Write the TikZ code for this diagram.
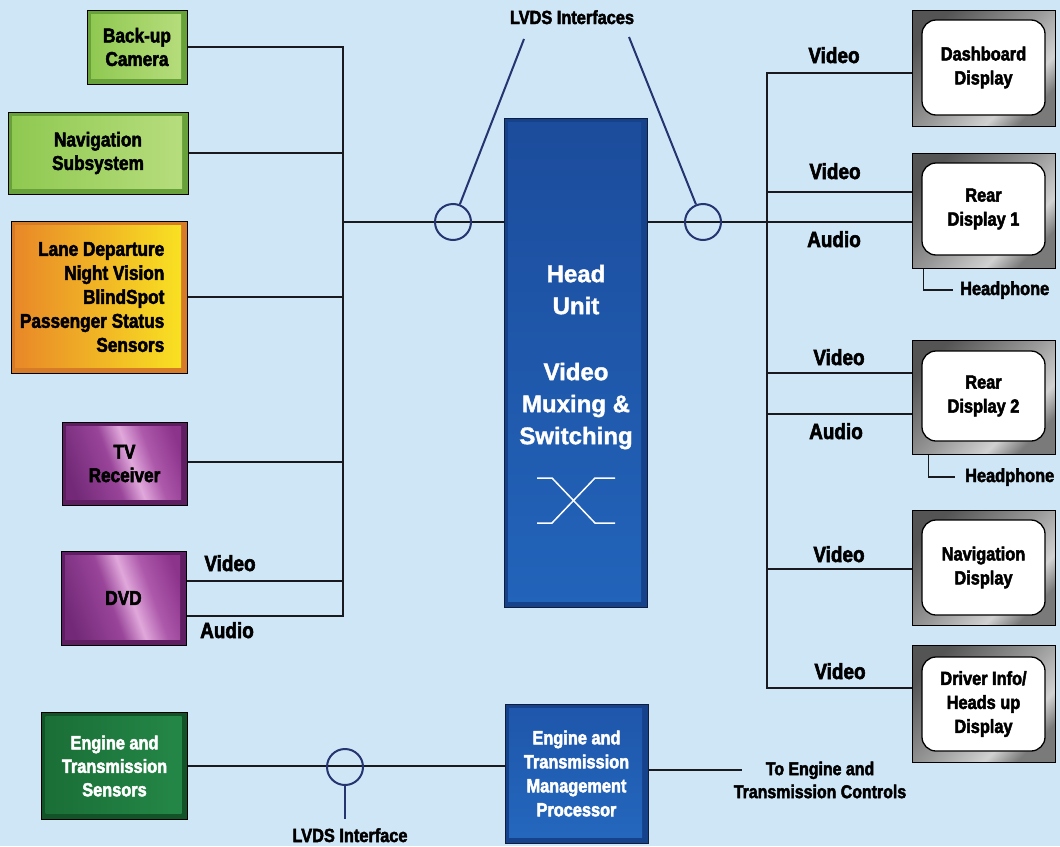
\documentclass[tikz,border=0pt]{standalone}
\usepackage{fontspec}
\newfontfamily\cf{Liberation Sans Bold}[FakeStretch=0.86,FakeBold=2.5]
\newfontfamily\hf{Liberation Sans Bold}[FakeBold=1.5]
\definecolor{bg}{RGB}{206,230,246}
\definecolor{navy}{RGB}{38,52,112}
\definecolor{wirec}{RGB}{25,25,30}
\definecolor{gdark}{RGB}{104,160,58}
\definecolor{g1}{RGB}{142,200,80}
\definecolor{g2}{RGB}{184,222,126}
\definecolor{odark}{RGB}{214,124,40}
\definecolor{or1}{RGB}{232,134,40}
\definecolor{or2}{RGB}{246,200,32}
\definecolor{or3}{RGB}{249,228,34}
\definecolor{pdark}{RGB}{96,30,98}
\definecolor{sdark}{RGB}{18,84,40}
\definecolor{s1}{RGB}{26,110,54}
\definecolor{s2}{RGB}{36,136,72}
\definecolor{hblk}{RGB}{16,30,60}
\definecolor{hdark}{RGB}{22,66,140}
\definecolor{h1}{RGB}{28,76,156}
\definecolor{h2}{RGB}{42,116,202}
\definecolor{h3}{RGB}{34,100,186}
\definecolor{p1}{RGB}{30,86,170}
\definecolor{p2}{RGB}{36,104,190}
\pgfdeclarehorizontalshading{purpsh}{100bp}{rgb(0bp)=(.45,.16,.47);rgb(25bp)=(.45,.16,.47);rgb(44bp)=(.6,.27,.6);rgb(53bp)=(.88,.66,.86);rgb(62bp)=(.68,.35,.67);rgb(75bp)=(.55,.2,.55);rgb(100bp)=(.55,.2,.55)}
\pgfdeclarehorizontalshading{bezsh}{100bp}{rgb(0bp)=(.33,.33,.33);rgb(25bp)=(.33,.33,.33);rgb(50bp)=(.6,.6,.6);rgb(66bp)=(.82,.82,.82);rgb(75bp)=(.48,.48,.48);rgb(100bp)=(.48,.48,.48)}
\tikzset{
  box/.style={draw=black, line width=1pt, inner sep=0pt, align=center, font=\cf\fontsize{20}{23.5}\selectfont},
  inset/.style={path picture={\shade[#1] ([xshift=4pt,yshift=-4pt]path picture bounding box.north west) rectangle ([xshift=-6pt,yshift=6pt]path picture bounding box.south east);}},
  boxtxt/.style={inner sep=0pt, font=\cf\fontsize{20}{24}\selectfont},
  lbl/.style={inner sep=0pt, anchor=base, font=\cf\fontsize{22}{24}\selectfont},
  small/.style={inner sep=0pt, font=\cf\fontsize{19}{23}\selectfont},
  wire/.style={draw=wirec, line width=1.5pt},
  navyline/.style={draw=navy, line width=2pt},
  lvds/.style={circle, draw=navy, line width=2pt, minimum size=36pt, inner sep=0pt},
  bezel/.style={draw=black, line width=1pt, minimum width=143pt, inner sep=0pt, shading=bezsh, shading angle=-45},
  screen/.style={draw=black, line width=1.3pt, fill=white, rounded corners=14pt, minimum width=123pt, inner sep=0pt, align=center, font=\cf\fontsize{19}{24}\selectfont},
}
\begin{document}
\begin{tikzpicture}[x=1pt,y=-1pt]
\fill[bg] (0,0) rectangle (1060,846);
\useasboundingbox (0,0) rectangle (1060,846);

% left sources
\node[box, fill=gdark, inset={left color=g1,right color=g2}, minimum width=100pt, minimum height=74pt] (cam) at (137,47) {Back-up\\Camera};
\node[box, fill=gdark, inset={left color=g1,right color=g2}, minimum width=180pt, minimum height=82pt] (nav) at (98,153) {Navigation\\Subsystem};
\node[box, fill=odark, inset={left color=or1,middle color=or2,right color=or3}, minimum width=176pt, minimum height=152pt] (lane) at (99,297) {};
\node[boxtxt, align=right, anchor=east] (laneT) at ([xshift=-23pt]lane.east) {Lane Departure\\Night Vision\\BlindSpot\\Passenger Status\\Sensors};
\node[box, fill=pdark, inset={shading=purpsh,shading angle=20}, minimum width=125pt, minimum height=83pt] (tv) at (124.5,463.5) {TV\\Receiver};
\node[box, fill=pdark, inset={shading=purpsh,shading angle=20}, minimum width=125pt, minimum height=94pt] (dvd) at (123.5,598) {DVD};
\node[box, fill=sdark, inset={left color=s1,right color=s2}, text=white, font=\cf\fontsize{19}{23.5}\selectfont, minimum width=146pt, minimum height=107pt] (sens) at (114.5,766) {Engine and\\Transmission\\Sensors};

% head unit
\node[box, draw=hblk, fill=hdark, inset={top color=h1,middle color=h2,bottom color=h3}, minimum width=143pt, minimum height=489pt] (head) at (575.5,362.5) {};
\node[inner sep=0pt, text=white, align=center, font=\hf\fontsize{24}{32}\selectfont] (headT) at (576,357) {Head\\Unit\\[34pt]Video\\Muxing \&\\Switching};
\draw[white, line width=1.5pt] (537,478) -- (552,478) -- (595,523) -- (615,523);
\draw[white, line width=1.5pt] (537,523) -- (552,523) -- (595,478) -- (615,478);

% processor
\node[box, draw=hblk, fill=hdark, inset={top color=p1,bottom color=p2}, text=white, font=\cf\fontsize{19}{24}\selectfont, minimum width=143pt, minimum height=139pt] (proc) at (576.5,773.5) {Engine and\\Transmission\\Management\\Processor};

% displays
\node[bezel, minimum height=116pt] (dashB) at (983.5,68) {};
\node[screen, minimum height=95pt] (dash) at (983.5,67.5) {Dashboard\\Display};
\node[bezel, minimum height=115pt] (rear1B) at (983.5,210.5) {};
\node[screen, minimum height=92pt] (rear1) at (983.5,209) {Rear\\Display 1};
\node[bezel, minimum height=114pt] (rear2B) at (983.5,397) {};
\node[screen, minimum height=90pt] (rear2) at (983.5,396) {Rear\\Display 2};
\node[bezel, minimum height=115pt] (navB) at (983.5,567.5) {};
\node[screen, minimum height=95pt] (navd) at (983.5,567.5) {Navigation\\Display};
\node[bezel, minimum height=117pt] (drvB) at (983.5,703.5) {};
\node[screen, minimum height=94pt] (drv) at (983.5,704) {Driver Info/\\Heads up\\Display};

% bus coordinates
\coordinate (busL) at (343,0);
\coordinate (busR) at (767,0);
\coordinate (hj) at (343,222);
\coordinate (tvj) at (343,462);
\coordinate (dvdv) at (343,581);
\coordinate (dvda) at (343,616);
\coordinate (dashL) at (767,73);
\coordinate (r1v) at (767,192);
\coordinate (r2v) at (767,373);
\coordinate (r2a) at (767,414);
\coordinate (nvv) at (767,569);
\coordinate (drvL) at (767,688);

% left wires
\draw[wire] (cam.east) -- (cam.east -| busL) -- (dvda) -- (dvd.east |- dvda);
\draw[wire] (nav.east) -- (nav.east -| busL);
\draw[wire] (lane.east) -- (lane.east -| busL);
\draw[wire] (tv.east |- tvj) -- (tvj);
\draw[wire] (dvd.east |- dvdv) -- (dvdv);
\draw[wire] (hj) -- (head.west |- hj);
\draw[wire] (head.east |- hj) -- (rear1B.west |- hj);

% right wires
\draw[wire] (dashB.west |- dashL) -- (dashL) -- (drvL) -- (drvB.west |- drvL);
\draw[wire] (r1v) -- (rear1B.west |- r1v);
\draw[wire] (r2v) -- (rear2B.west |- r2v);
\draw[wire] (r2a) -- (rear2B.west |- r2a);
\draw[wire] (nvv) -- (navB.west |- nvv);

% headphones
\node[small, anchor=base west] (hp1) at (960,295) {Headphone};
\node[small, anchor=base west] (hp2) at (965,482) {Headphone};
\draw[wire] ([xshift=12pt]rear1B.south west) |- ([xshift=-7pt]hp1.west);
\draw[wire] ([xshift=17pt]rear2B.south west) |- ([xshift=-10pt]hp2.west);

% bottom wires
\draw[wire] (sens.east) -- (proc.west |- sens.east);
\coordinate (tocE) at (742,770);
\draw[wire] (proc.east |- tocE) -- (tocE);
\node[inner sep=0pt, align=center, font=\cf\fontsize{18.5}{23}\selectfont] (toc) at (820,780) {To Engine and\\Transmission Controls};

% LVDS interfaces
\node[lvds] (lc) at (453,222) {};
\node[lvds] (rc) at (703,222) {};
\node[lvds] (bc) at (345,767) {};
\node[small, anchor=base] (lvdsT) at (572,24) {LVDS Interfaces};
\node[small, anchor=base] (lvdsB) at (350,842) {LVDS Interface};
\coordinate (ltop) at (524,39);
\coordinate (rtop) at (629,37);
\coordinate (bend) at (345,819);
\draw[navyline] (lc) -- (ltop);
\draw[navyline] (rc) -- (rtop);
\draw[navyline] (bc) -- (bend);

% labels
\node[lbl] (l1) at (230,571) {Video};
\node[lbl] (l2) at (227,638) {Audio};
\node[lbl] (l3) at (834,63) {Video};
\node[lbl] (l4) at (835,179) {Video};
\node[lbl] (l5) at (834,247) {Audio};
\node[lbl] (l6) at (839,365) {Video};
\node[lbl] (l7) at (836,439) {Audio};
\node[lbl] (l8) at (839,562) {Video};
\node[lbl] (l9) at (840,679) {Video};
\end{tikzpicture}
\end{document}
